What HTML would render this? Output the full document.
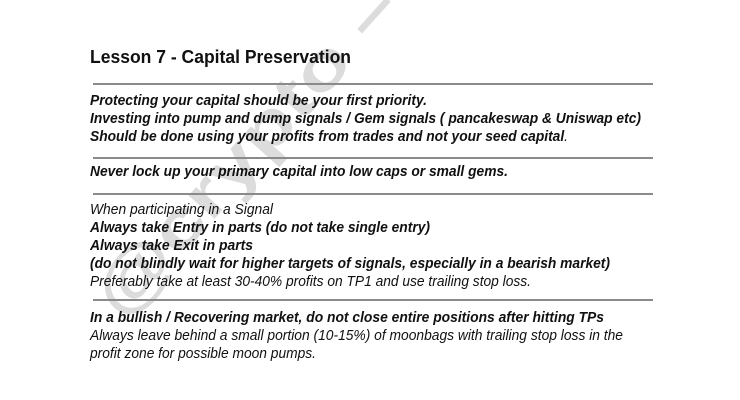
<!DOCTYPE html>
<html><head><meta charset="utf-8"><style>
html,body{margin:0;padding:0;background:#fff;}
body{width:740px;height:400px;position:relative;overflow:hidden;font-family:"Liberation Sans",Arial,sans-serif;color:#111;}
.l{position:absolute;left:90px;white-space:nowrap;font-style:italic;font-size:15px;line-height:16px;transform-origin:0 50%;}
.b{font-weight:bold;}
.rule{position:absolute;left:93px;width:560px;height:2px;background:#8a8a8a;}
#title{position:absolute;left:90px;top:47px;font-size:18px;font-weight:bold;white-space:nowrap;transform-origin:0 50%;}
#wm{position:absolute;left:245px;top:150px;font-size:66px;font-weight:bold;color:#dcdcdc;white-space:nowrap;line-height:66px;}
</style></head><body>
<div id="wm">@crypto –</div>
<div id="title" data-w="261">Lesson 7 - Capital Preservation</div>
<div class="rule" style="top:83px"></div>
<div class="l b" style="top:93px" data-w="337">Protecting your capital should be your first priority.</div>
<div class="l b" style="top:111px" data-w="551">Investing into pump and dump signals / Gem signals ( pancakeswap &amp; Uniswap etc)</div>
<div class="l b" style="top:129px" data-w="478">Should be done using your profits from trades and not your seed capital<span style="font-weight:normal">.</span></div>
<div class="rule" style="top:157px"></div>
<div class="l b" style="top:164px" data-w="418">Never lock up your primary capital into low caps or small gems.</div>
<div class="rule" style="top:193px"></div>
<div class="l" style="top:202px" data-w="183">When participating in a Signal</div>
<div class="l b" style="top:220px" data-w="340">Always take Entry in parts (do not take single entry)</div>
<div class="l b" style="top:238px" data-w="163">Always take Exit in parts</div>
<div class="l b" style="top:256px" data-w="520">(do not blindly wait for higher targets of signals, especially in a bearish market)</div>
<div class="l" style="top:274px" data-w="441">Preferably take at least 30-40% profits on TP1 and use trailing stop loss.</div>
<div class="rule" style="top:299px"></div>
<div class="l b" style="top:310px" data-w="514">In a bullish / Recovering market, do not close entire positions after hitting TPs</div>
<div class="l" style="top:328px" data-w="533">Always leave behind a small portion (10-15%) of moonbags with trailing stop loss in the</div>
<div class="l" style="top:346px" data-w="226">profit zone for possible moon pumps.</div>
<script>
document.querySelectorAll('[data-w]').forEach(function(el){
  var w=parseFloat(el.getAttribute('data-w'));
  var r=el.getBoundingClientRect().width;
  if(r>0) el.style.transform='scaleX('+(w/r)+')';
});
var wm=document.getElementById('wm');
var ww=wm.offsetWidth, wh=wm.offsetHeight;
wm.style.left=(245-ww/2)+'px';
wm.style.top=(150-wh/2)+'px';
wm.style.transform='rotate(-48deg) scaleX('+(420/ww)+')';
</script>
</body></html>
